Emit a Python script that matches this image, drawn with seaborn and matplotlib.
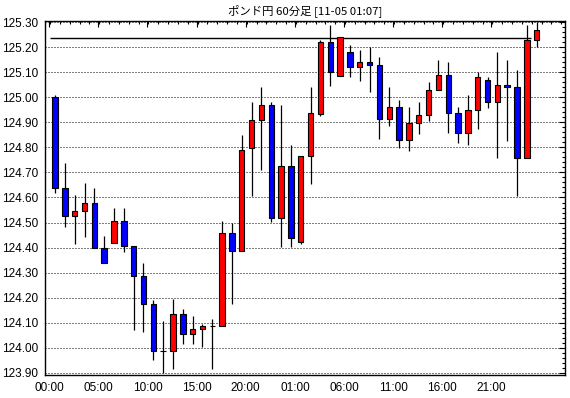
import numpy as np
import pandas as pd
import seaborn as sns
import matplotlib.pyplot as plt
from matplotlib.ticker import FixedLocator, MultipleLocator, FormatStrFormatter

# GBP/JPY hourly candles, 11-03 00:00 .. 11-05 01:00
opens = [125.000, 124.636, 124.525, 124.545, 124.577, 124.397, 124.417, 124.505, 124.405, 124.285,
         124.174, 123.986, 123.986, 124.134, 124.054, 124.074, 124.086, 124.086, 124.457, 124.385,
         124.796, 124.908, 124.968, 124.517, 124.727, 124.424, 124.767, 124.933, 125.219, 125.086,
         125.179, 125.119, 125.139, 125.127, 124.914, 124.960, 124.828, 124.896, 124.929, 125.027,
         125.087, 124.936, 124.856, 124.948, 125.067, 124.980, 125.047, 125.039, 124.756, 125.227]
highs = [125.009, 124.737, 124.610, 124.658, 124.638, 124.446, 124.558, 124.558, 124.405, 124.337,
         124.191, 124.107, 124.194, 124.154, 124.127, 124.094, 124.115, 124.505, 124.497, 124.849,
         124.980, 125.041, 124.980, 124.969, 124.809, 124.767, 125.041, 125.228, 125.288, 125.239,
         125.208, 125.188, 125.199, 125.159, 125.041, 124.988, 124.961, 124.980, 125.061, 125.148,
         125.140, 124.961, 125.009, 125.099, 125.079, 125.179, 125.148, 125.107, 125.288, 125.300]
lows = [124.617, 124.484, 124.416, 124.444, 124.397, 124.337, 124.417, 124.384, 124.073, 124.065,
        123.952, 123.900, 123.914, 124.014, 124.014, 124.005, 123.914, 124.086, 124.174, 124.385,
        124.607, 124.708, 124.503, 124.404, 124.404, 124.414, 124.654, 124.926, 125.046, 125.086,
        125.079, 125.066, 125.019, 124.835, 124.885, 124.796, 124.787, 124.855, 124.906, 125.027,
        124.856, 124.816, 124.808, 124.874, 124.958, 124.756, 124.827, 124.607, 124.756, 125.199]
closes = [124.636, 124.525, 124.545, 124.577, 124.397, 124.337, 124.505, 124.405, 124.285, 124.174,
          123.986, 123.986, 124.134, 124.054, 124.074, 124.086, 124.086, 124.457, 124.385, 124.788,
          124.908, 124.968, 124.517, 124.727, 124.437, 124.767, 124.936, 125.219, 125.099, 125.239,
          125.119, 125.139, 125.127, 124.914, 124.960, 124.828, 124.896, 124.929, 125.027, 125.087,
          124.936, 124.856, 124.948, 125.079, 124.980, 125.047, 125.039, 124.756, 125.227, 125.267]

tick_labels = ["00:00", "05:00", "10:00", "15:00", "20:00", "01:00", "06:00", "11:00", "16:00", "21:00"]
ref_level = 125.235
title = "ポンド円 60分足 [11-05 01:07]"

df = pd.DataFrame({"open": opens, "high": highs, "low": lows, "close": closes})
df["idx"] = np.arange(len(df))
df["up"] = df["close"] >= df["open"]
df["color"] = np.where(df["up"], "#ff0000", "#0000ff")

sns.set_style("white")
plt.rcParams["font.family"] = ["Liberation Sans", "DejaVu Sans"]

fig = plt.figure(figsize=(5.7, 3.98), dpi=100)
fig.patch.set_facecolor("white")
ax = fig.add_axes([45 / 570, 1 - 375 / 398, 520 / 570, 354 / 398])

# dotted horizontal grid
for lvl in np.arange(123.90, 125.301, 0.10):
    ax.axhline(lvl, color="black", lw=0.72, linestyle=(0, (1, 2)), zorder=1)

# reference level line
ax.hlines(ref_level, -0.5, 48.4, color="black", lw=1.0, zorder=2)

# wicks
ax.vlines(df["idx"], df["low"], df["high"], color="black", lw=0.9, zorder=3)

# bodies
bottoms = np.minimum(df["open"], df["close"])
heights = np.abs(df["close"] - df["open"])
ax.bar(df["idx"], heights, bottom=bottoms, width=0.55, color=df["color"],
       edgecolor="black", linewidth=0.8, zorder=4)

ax.set_xlim(-1.02, 51.88)
ax.set_ylim(123.892, 125.304)

ax.xaxis.set_major_locator(FixedLocator([i - 0.6 for i in range(0, 50, 5)]))
ax.set_xticklabels(tick_labels)
ax.xaxis.set_minor_locator(FixedLocator([i - 0.5 for i in range(0, 53)]))
ax.yaxis.set_major_locator(FixedLocator(np.round(np.arange(123.90, 125.301, 0.10), 2)))
ax.yaxis.set_major_formatter(FormatStrFormatter("%.2f"))
ax.yaxis.set_minor_locator(MultipleLocator(0.02))

ax.tick_params(which="both", direction="in", top=True, right=True, color="black",
               labelsize=8.5, labelcolor="black")
ax.tick_params(which="major", length=4, width=0.8, pad=5)
ax.tick_params(which="minor", length=2.5, width=0.8)

for s in ax.spines.values():
    s.set_color("black")
    s.set_linewidth(1.0)

fig.text(305 / 570, 1 - 10.5 / 398, title, ha="center", va="center", fontsize=8.2,
         family=["Noto Sans CJK JP", "DejaVu Sans"], color="black")

fig.savefig("out.png", dpi=100)
